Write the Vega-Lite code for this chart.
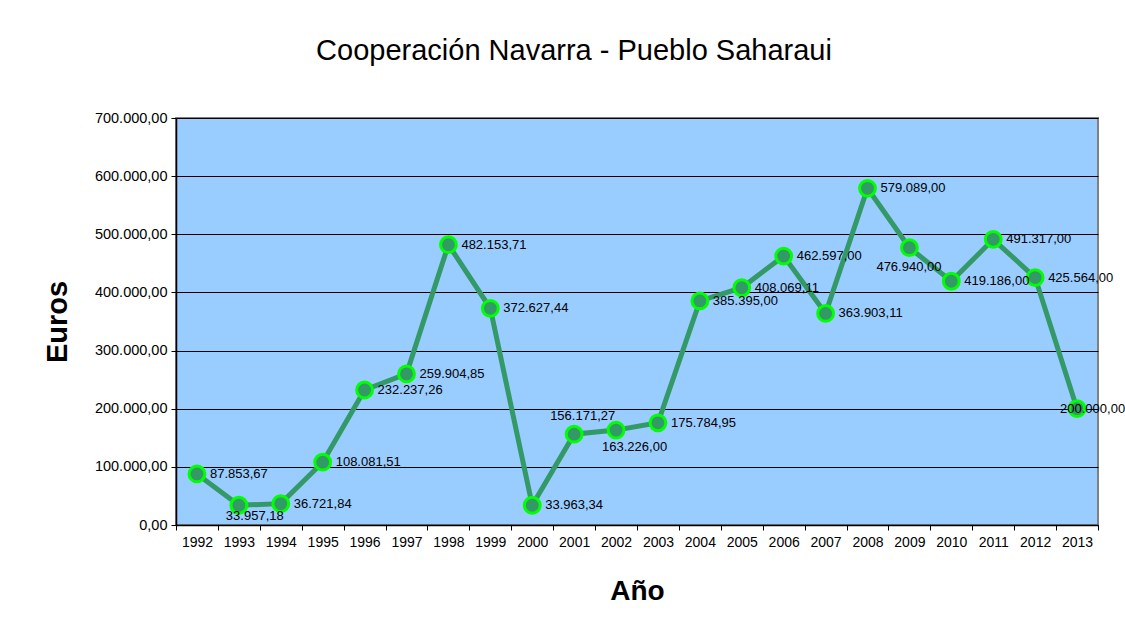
{
  "$schema": "https://vega.github.io/schema/vega-lite/v6.json",
  "autosize": {"type": "none"},
  "width": 922,
  "height": 407,
  "padding": {"left": 176, "top": 118, "right": 27, "bottom": 106},
  "background": "white",
  "config": {
    "locale": {"number": {"decimal": ",", "thousands": ".", "grouping": [3], "currency": ["", " €"]}},
    "font": "Liberation Sans",
    "view": {"fill": "#99CCFF", "stroke": "#808080", "strokeWidth": 2}
  },
  "title": {
    "text": "Cooperación Navarra - Pueblo Saharaui",
    "fontSize": 29,
    "fontWeight": "normal",
    "font": "Liberation Sans",
    "color": "#000000",
    "anchor": "middle",
    "dx": -63,
    "offset": 44
  },
  "data": {
    "values": [
      {"year": 1992, "euros": 87853.67},
      {"year": 1993, "euros": 33957.18},
      {"year": 1994, "euros": 36721.84},
      {"year": 1995, "euros": 108081.51},
      {"year": 1996, "euros": 232237.26},
      {"year": 1997, "euros": 259904.85},
      {"year": 1998, "euros": 482153.71},
      {"year": 1999, "euros": 372627.44},
      {"year": 2000, "euros": 33963.34},
      {"year": 2001, "euros": 156171.27},
      {"year": 2002, "euros": 163226.00},
      {"year": 2003, "euros": 175784.95},
      {"year": 2004, "euros": 385395.00},
      {"year": 2005, "euros": 408069.11},
      {"year": 2006, "euros": 462597.00},
      {"year": 2007, "euros": 363903.11},
      {"year": 2008, "euros": 579089.00},
      {"year": 2009, "euros": 476940.00},
      {"year": 2010, "euros": 419186.00},
      {"year": 2011, "euros": 491317.00},
      {"year": 2012, "euros": 425564.00},
      {"year": 2013, "euros": 200000.00}
    ]
  },
  "encoding": {
    "x": {
      "field": "year",
      "type": "ordinal",
      "scale": {"type": "band", "paddingInner": 0, "paddingOuter": 0},
      "axis": {
        "title": "Año",
        "titleFontSize": 28,
        "titleFontWeight": "bold",
        "titleColor": "#000000",
        "titlePadding": 28,
        "labelAngle": 0,
        "labelFontSize": 14,
        "labelColor": "#000000",
        "labelPadding": 5,
        "tickBand": "extent",
        "tickSize": 5,
        "tickColor": "#000000",
        "domainColor": "#000000",
        "domainWidth": 1.5,
        "grid": false
      }
    },
    "y": {
      "field": "euros",
      "type": "quantitative",
      "scale": {"domain": [0, 700000], "nice": false},
      "axis": {
        "title": "Euros",
        "titleFontSize": 29,
        "titleFontWeight": "bold",
        "titleColor": "#000000",
        "titlePadding": 22,
        "values": [0, 100000, 200000, 300000, 400000, 500000, 600000, 700000],
        "format": ",.2f",
        "labelFontSize": 14.5,
        "labelColor": "#000000",
        "labelPadding": 4,
        "tickSize": 5,
        "tickColor": "#000000",
        "domainColor": "#000000",
        "domainWidth": 1.5,
        "grid": true,
        "gridColor": "#000000",
        "gridWidth": 1,
        "gridOpacity": 1
      }
    }
  },
  "layer": [
    {"mark": {"type": "line", "color": "#339966", "strokeWidth": 5}},
    {"mark": {"type": "point", "filled": true, "fill": "#339966", "stroke": "#00FF00", "strokeWidth": 3, "size": 250, "opacity": 1}},
    {
      "transform": [{"filter": "indexof([1993, 2001, 2002, 2009, 2013], datum.year) < 0"}],
      "mark": {"type": "text", "align": "left", "baseline": "middle", "dx": 13, "fontSize": 13, "color": "#000000"},
      "encoding": {"text": {"field": "euros", "type": "quantitative", "format": ",.2f"}}
    },
    {
      "transform": [{"filter": "datum.year == 1993"}],
      "mark": {"type": "text", "align": "left", "baseline": "middle", "dx": -13, "dy": 11, "fontSize": 13, "color": "#000000"},
      "encoding": {"text": {"field": "euros", "type": "quantitative", "format": ",.2f"}}
    },
    {
      "transform": [{"filter": "datum.year == 2001"}],
      "mark": {"type": "text", "align": "left", "baseline": "middle", "dx": -24, "dy": -18, "fontSize": 13, "color": "#000000"},
      "encoding": {"text": {"field": "euros", "type": "quantitative", "format": ",.2f"}}
    },
    {
      "transform": [{"filter": "datum.year == 2002"}],
      "mark": {"type": "text", "align": "left", "baseline": "middle", "dx": -14, "dy": 17, "fontSize": 13, "color": "#000000"},
      "encoding": {"text": {"field": "euros", "type": "quantitative", "format": ",.2f"}}
    },
    {
      "transform": [{"filter": "datum.year == 2009"}],
      "mark": {"type": "text", "align": "left", "baseline": "middle", "dx": -33, "dy": 19, "fontSize": 13, "color": "#000000"},
      "encoding": {"text": {"field": "euros", "type": "quantitative", "format": ",.2f"}}
    },
    {
      "transform": [{"filter": "datum.year == 2013"}],
      "mark": {"type": "text", "align": "left", "baseline": "middle", "dx": -17, "dy": 0, "fontSize": 13, "color": "#000000"},
      "encoding": {"text": {"field": "euros", "type": "quantitative", "format": ",.2f"}}
    }
  ]
}
